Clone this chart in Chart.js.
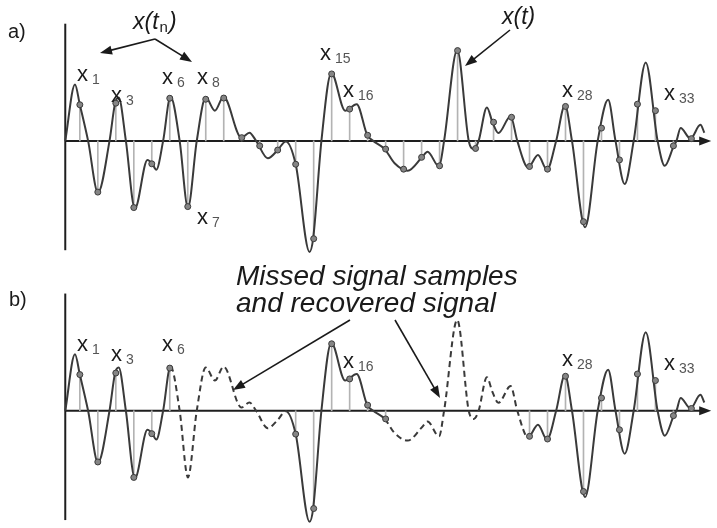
<!DOCTYPE html>
<html lang="en">
<head>
<meta charset="UTF-8">
<title>Sampled signal and recovered signal</title>
<script src="https://cdn.jsdelivr.net/npm/chart.js@4"></script>
<style>
  html, body { margin: 0; padding: 0; background: #fff; }
  #wrap { position: relative; width: 717px; height: 528px; }
</style>
</head>
<body>
<div id="wrap"><canvas id="sig" width="717" height="528"></canvas></div>
<script>
// continuous signal x(t) (t in sample periods)
const sigT = [0.19, 0.73, 1.0, 1.46, 2.01, 2.65, 2.96, 3.16, 3.56, 4.06, 4.76, 5.03, 5.25, 5.63, 6.04,
  6.55, 7.01, 7.5, 8.0, 8.51, 8.99, 9.98, 10.43, 10.8, 11.45, 12.0, 12.45, 13.0, 13.77, 13.97, 14.43,
  14.98, 15.75, 16.39, 16.98, 17.31, 17.95, 18.5, 19.23, 20.02, 20.33, 20.97, 21.25, 21.98, 22.62,
  22.9, 23.17, 23.63, 23.94, 24.27, 24.95, 25.32, 25.92, 26.47, 26.97, 27.48, 27.97, 28.36, 29.09,
  29.79, 30.37, 30.78, 31.29, 31.79, 32.46, 33.12, 33.52, 34.02, 34.17, 34.4, 34.95, 35.5, 35.72];
const sigV = [0, 5.73, 3.67, 0, -5.25, 0, 3.83, 4.4, 0, -6.87, -1.93, -2.33, -2.93, 0, 4.5,
  0, -6.77, 0, 4.4, 3.07, 4.48, 0.33, 0.83, 0, -1.77, -0.93, -0.05, -2.37, -11.27, -9.93, 0,
  6.9, 3.07, 3.73, 0.57, 0, -0.83, -2.27, -3.03, -1.67, -1.1, -2.6, 0, 9.23, 0,
  -0.83, 0, 3.4, 1.9, 0.8, 2.5, 0, -2.7, -1.43, -2.93, 0, 3.63, 0, -8.77,
  0, 4.17, 0, -4.37, 0, 7.97, 0, -2.53, -0.5, 0, 1.3, 0.23, 1.63, 0.83];

// samples x_n
const sampleN = [1, 2, 3, 4, 5, 6, 7, 8, 9, 10, 11, 12, 13, 14, 15, 16, 17, 18,
  19, 20, 21, 22, 23, 24, 25, 26, 27, 28, 29, 30, 31, 32, 33, 34, 35];
const sampleV = [3.67, -5.2, 3.83, -6.77, -2.33, 4.33, -6.67, 4.23, 4.35, 0.33, -0.5, -0.93, -2.37, -9.93, 6.8, 3.23, 0.57, -0.83,
  -2.87, -1.67, -2.53, 9.17, -0.77, 1.9, 2.4, -2.6, -2.87, 3.5, -8.2, 1.3, -1.93, 3.73, 3.07, -0.5, 0.23];

// panel b: samples that were kept, and stretches of recovered (dashed) signal
const keptB = [1, 2, 3, 4, 5, 6, 13, 14, 15, 16, 17, 18, 26, 27, 28, 29, 30, 31, 32, 33, 34, 35];
const missedSpans = [[6.04, 12.45], [17.95, 25.92]];

// labelled samples: [n, left x, baseline offset from the zero line]
const labelsA = [[1, 77, -60], [3, 111, -39], [6, 162, -57], [8, 197, -57], [7, 197, 83],
  [15, 320, -81], [16, 343, -44], [28, 562, -44], [33, 664, -41]];
const labelsB = [[1, 77, -60], [3, 111, -50], [6, 162, -60], [16, 343, -43], [28, 562, -45], [33, 664, -41]];

const tAxis = 0.19;
const tEnd = 36.1;
const FONT = '"Liberation Sans", Arial, sans-serif';

const curve = sigT.map((t, i) => ({ x: t, y: sigV[i] }));
const samplesA = sampleN.map((n, i) => ({ x: n, y: sampleV[i] }));
const samplesB = samplesA.filter(p => keptB.includes(p.x));

function inMissed(ctx) {
  const a = ctx.p0.parsed.x, b = ctx.p1.parsed.x;
  return missedSpans.some(r => a >= r[0] && b <= r[1]);
}

const LINE = '#3a3a3a';
const pointStyle = {
  type: 'scatter', showLine: false, pointRadius: 3, pointHoverRadius: 3,
  pointBackgroundColor: '#858585', pointBorderColor: '#3a3a3a', pointBorderWidth: 1
};
const stemStyle = { type: 'bar', barThickness: 1, grouped: false, backgroundColor: '#b3b3b3', borderWidth: 0 };
const lineStyle = {
  type: 'line', borderColor: LINE, borderWidth: 2, pointRadius: 0,
  cubicInterpolationMode: 'monotone', fill: false
};

function arrow(ctx, x0, y0, x1, y1) {
  const a = Math.atan2(y1 - y0, x1 - x0);
  const L = 12, W = 4.5;
  ctx.beginPath();
  ctx.moveTo(x0, y0);
  ctx.lineTo(x1 - L * 0.8 * Math.cos(a), y1 - L * 0.8 * Math.sin(a));
  ctx.stroke();
  ctx.beginPath();
  ctx.moveTo(x1, y1);
  ctx.lineTo(x1 - L * Math.cos(a) + W * Math.sin(a), y1 - L * Math.sin(a) - W * Math.cos(a));
  ctx.lineTo(x1 - L * Math.cos(a) - W * Math.sin(a), y1 - L * Math.sin(a) + W * Math.cos(a));
  ctx.closePath();
  ctx.fill();
}

function sampleLabel(ctx, n, x, yb) {
  ctx.fillStyle = '#1a1a1a';
  ctx.font = '22px ' + FONT;
  ctx.fillText('x', x, yb);
  ctx.fillStyle = '#555';
  ctx.font = '14px ' + FONT;
  ctx.fillText(String(n), x + 15, yb + 3);
}

const decor = {
  id: 'decor',
  beforeDatasetsDraw(chart) {
    const ctx = chart.ctx, sx = chart.scales.x;
    ctx.save();
    ctx.strokeStyle = '#1e1e1e';
    ctx.fillStyle = '#1e1e1e';
    ctx.lineWidth = 2;
    ['ya', 'yb'].forEach(id => {
      const sy = chart.scales[id];
      const x0 = sx.getPixelForValue(tAxis), x1 = sx.getPixelForValue(tEnd);
      const y0 = sy.getPixelForValue(0);
      ctx.beginPath();
      ctx.moveTo(x0, sy.getPixelForValue(11.9));
      ctx.lineTo(x0, sy.getPixelForValue(-11.1));
      ctx.stroke();
      ctx.beginPath();
      ctx.moveTo(x0, y0);
      ctx.lineTo(x1 - 8, y0);
      ctx.stroke();
      ctx.beginPath();
      ctx.moveTo(x1, y0);
      ctx.lineTo(x1 - 12, y0 - 4.5);
      ctx.lineTo(x1 - 12, y0 + 4.5);
      ctx.closePath();
      ctx.fill();
    });
    ctx.restore();
  },
  afterDatasetsDraw(chart) {
    const ctx = chart.ctx;
    const za = chart.scales.ya.getPixelForValue(0), zb = chart.scales.yb.getPixelForValue(0);
    ctx.save();
    ctx.textBaseline = 'alphabetic';
    labelsA.forEach(l => sampleLabel(ctx, l[0], l[1], za + l[2]));
    labelsB.forEach(l => sampleLabel(ctx, l[0], l[1], zb + l[2]));

    ctx.fillStyle = '#1a1a1a';
    ctx.font = '20px ' + FONT;
    ctx.fillText('a)', 8, 38);
    ctx.fillText('b)', 9, 306);

    // x(t_n)
    ctx.font = 'italic 23px ' + FONT;
    ctx.fillText('x(t', 133, 29);
    let w = ctx.measureText('x(t').width;
    ctx.font = '15px ' + FONT;
    ctx.fillText('n', 133 + w + 1, 32);
    const wn = ctx.measureText('n').width;
    ctx.font = 'italic 23px ' + FONT;
    ctx.fillText(')', 133 + w + wn + 2, 29);

    ctx.fillText('x(t)', 502, 24);

    ctx.font = 'italic 28px ' + FONT;
    ctx.fillText('Missed signal samples', 236, 285);
    ctx.fillText('and recovered signal', 236, 312);

    ctx.strokeStyle = '#1a1a1a';
    ctx.lineWidth = 1.6;
    arrow(ctx, 155, 39, 100, 53);
    arrow(ctx, 155, 39, 192, 62);
    arrow(ctx, 510, 30, 465, 66);
    arrow(ctx, 350, 320, 233, 390);
    arrow(ctx, 395, 320, 440, 398);
    ctx.restore();
  }
};

new Chart(document.getElementById('sig'), {
  type: 'line',
  data: {
    datasets: [
      Object.assign({ data: samplesA, yAxisID: 'ya' }, pointStyle),
      Object.assign({ data: samplesB, yAxisID: 'yb' }, pointStyle),
      Object.assign({ data: curve, yAxisID: 'ya' }, lineStyle),
      Object.assign({
        data: curve, yAxisID: 'yb',
        segment: { borderDash: ctx => inMissed(ctx) ? [6, 4] : undefined }
      }, lineStyle),
      Object.assign({ data: samplesA, yAxisID: 'ya' }, stemStyle),
      Object.assign({ data: samplesB, yAxisID: 'yb' }, stemStyle)
    ]
  },
  options: {
    responsive: false,
    animation: false,
    layout: { padding: 0 },
    scales: {
      x: { type: 'linear', display: false, min: -3.216, max: 36.2, offset: false },
      ya: { type: 'linear', display: false, min: -38.9, max: 13.9 },
      yb: { type: 'linear', display: false, min: -11.5, max: 41.3 }
    },
    plugins: { legend: { display: false }, tooltip: { enabled: false } }
  },
  plugins: [decor]
});
</script>
</body>
</html>
